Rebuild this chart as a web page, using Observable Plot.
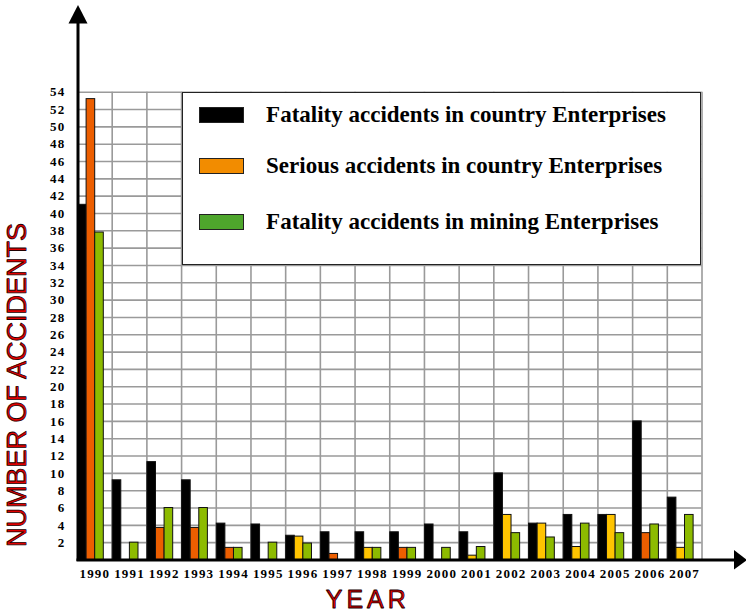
<!DOCTYPE html>
<html>
<head>
<meta charset="utf-8">
<script src="https://cdn.jsdelivr.net/npm/d3@7"></script>
<script src="https://cdn.jsdelivr.net/npm/@observablehq/plot@0.6"></script>
<style>
  body { margin: 0; background: #fff; }
  #wrap { position: relative; width: 746px; height: 614px; overflow: hidden; }
  #legend {
    position: absolute; background: #fff; border: 1.5px solid #222; box-sizing: border-box;
    font-family: "Liberation Serif", "Times New Roman", serif; font-weight: bold; font-size: 23px; color: #000;
  }
  .row { position: absolute; left: 16px; display: flex; align-items: center; white-space: nowrap; }
  .sw { width: 45px; height: 16px; border: 1px solid #222; box-sizing: border-box; margin-right: 22px; }
  svg [aria-label="y-axis tick label"] text, svg [aria-label="x-axis tick label"] text { letter-spacing: 1.2px; }
</style>
</head>
<body>
<div id="wrap"></div>
<script>
// ---- data ----
const years = [1990, 1991, 1992, 1993, 1994, 1995, 1996, 1997, 1998, 1999, 2000, 2001, 2002, 2003, 2004, 2005, 2006, 2007];
const fatalCountry   = [41, 9.2, 11.3, 9.2, 4.2, 4.1, 2.8, 3.2, 3.2, 3.2, 4.1, 3.2, 10, 4.2, 5.2, 5.2, 16, 7.2];
const seriousCountry = [53.2, 0, 3.7, 3.7, 1.4, 0, 2.7, 0.7, 1.4, 1.4, 0, 0.5, 5.2, 4.2, 1.5, 5.2, 3.1, 1.4];
const fatalMining    = [37.8, 2, 6, 6, 1.4, 2, 1.9, 0, 1.4, 1.4, 1.4, 1.5, 3.1, 2.6, 4.2, 3.1, 4.1, 5.2];
const yTicks = d3.range(2, 56, 2);
const seriesNames = [
  "Fatality accidents in country Enterprises",
  "Serious accidents in country Enterprises",
  "Fatality accidents in mining Enterprises"
];

// ---- styles ----
const ORANGE = "#ec5e00", AMBER = "#ffc400", GREEN = "#8dbb00";
const amberYears = new Set([1996, 1998, 2001, 2002, 2003, 2004, 2005, 2007]);
const legendColors = ["#000000", "#f28c00", "#4ea62c"];

const W = 746, H = 614;
const mL = 77, mR = 44.5, mT = 91.7, mB = 54.5;
const bw = (W - mL - mR) / years.length;
const barW = 8.6;

const rows = years.map((y, i) => ({year: y, fatal: fatalCountry[i], serious: seriousCountry[i], mining: fatalMining[i]}));

function bars(key, idx, fill) {
  return Plot.rectY(rows.filter(d => d[key] > 0), {
    x: "year", interval: 1, y: key, fill,
    stroke: "#111", strokeWidth: 1,
    insetLeft: 0.5 + idx * barW,
    insetRight: bw - 0.5 - (idx + 1) * barW
  });
}

const titleStyle = {
  fontFamily: "Liberation Sans, Arial, sans-serif", fontWeight: "normal", fontSize: 27,
  fill: "#e00000", stroke: "#200000", strokeWidth: 0.8, paintOrder: "fill"
};

const chart = Plot.plot({
  width: W, height: H,
  marginLeft: mL, marginRight: mR, marginTop: mT, marginBottom: mB,
  style: {fontFamily: "Liberation Serif, Times New Roman, serif", fontWeight: "bold", fontSize: "13px", color: "#000", background: "#fff"},
  x: {type: "linear", domain: [years[0], years[years.length - 1] + 1]},
  y: {domain: [0, 54]},
  marks: [
    Plot.gridY(yTicks, {stroke: "#9a9a9a", strokeOpacity: 1, strokeWidth: 1.6}),
    Plot.gridX(years.slice(1).concat([years[years.length - 1] + 1]), {stroke: "#9a9a9a", strokeOpacity: 1, strokeWidth: 1.6}),
    bars("fatal", 0, "#000"),
    bars("serious", 1, d => amberYears.has(d.year) ? AMBER : ORANGE),
    bars("mining", 2, GREEN),
    Plot.axisY(yTicks, {tickSize: 0, tickPadding: 12, label: null, fontWeight: "bold", fontSize: 13}),
    Plot.axisX(years, {tickSize: 0, tickPadding: 9, dx: bw / 2, label: null, tickFormat: d => String(d), fontWeight: "bold", fontSize: 13}),
    Plot.text(["NUMBER OF ACCIDENTS"], {
      frameAnchor: "left", dx: -60, dy: 59, rotate: -90, textAnchor: "middle", lineAnchor: "middle", text: d => d,
      ...titleStyle
    }),
    Plot.text(["YEAR"], {
      frameAnchor: "bottom", dx: -22, dy: 40, textAnchor: "middle", lineAnchor: "middle", text: d => d,
      ...titleStyle, fontSize: 25
    })
  ]
});

const svg = d3.select(chart);
// widen labels like the reference
svg.selectAll("text").filter(function () { return this.textContent === "YEAR"; })
  .style("letter-spacing", "4px");
svg.selectAll("text").filter(function () { return /^\d+$/.test(this.textContent); })
  .style("letter-spacing", "1.2px").style("font-size", "13px").style("font-weight", "bold");

// axis lines with arrowheads, positioned from the scales
const sx = chart.scale("x"), sy = chart.scale("y");
const x0 = sx.apply(years[0]), y0 = sy.apply(0);
const g = svg.append("g");
g.append("line").attr("x1", x0 + 1).attr("x2", x0 + 1).attr("y1", y0 + 1.5).attr("y2", 22).attr("stroke", "#000").attr("stroke-width", 3);
g.append("path").attr("d", `M${x0 - 8.5},23.5L${x0 + 10.5},23.5L${x0 + 1},5Z`).attr("fill", "#000");
g.append("line").attr("x1", x0 - 0.5).attr("x2", W - 12).attr("y1", y0 + 0.5).attr("y2", y0 + 0.5).attr("stroke", "#000").attr("stroke-width", 3.2);
g.append("path").attr("d", `M${W - 12},${y0 - 9.5}L${W - 12},${y0 + 10}L${W + 1},${y0 + 0.5}Z`).attr("fill", "#000");

const wrap = document.getElementById("wrap");
wrap.appendChild(chart);

// legend box (inside the plot area, top-right)
const leg = document.createElement("div");
leg.id = "legend";
const lx = sx.apply(1993) + 1, rx = sx.apply(years[years.length - 1] + 1);
const ty = sy.apply(54), by = sy.apply(34);
Object.assign(leg.style, {left: lx + "px", top: ty + "px", width: (rx - lx) + "px", height: (by - ty) + "px"});
const rowTops = [12, 63, 119];
seriesNames.forEach((name, i) => {
  const r = document.createElement("div");
  r.className = "row";
  r.style.top = rowTops[i] + "px";
  r.style.height = "20px";
  const sw = document.createElement("div");
  sw.className = "sw";
  sw.style.background = legendColors[i];
  const t = document.createElement("span");
  t.textContent = name;
  r.appendChild(sw); r.appendChild(t);
  leg.appendChild(r);
});
wrap.appendChild(leg);
</script>
</body>
</html>
